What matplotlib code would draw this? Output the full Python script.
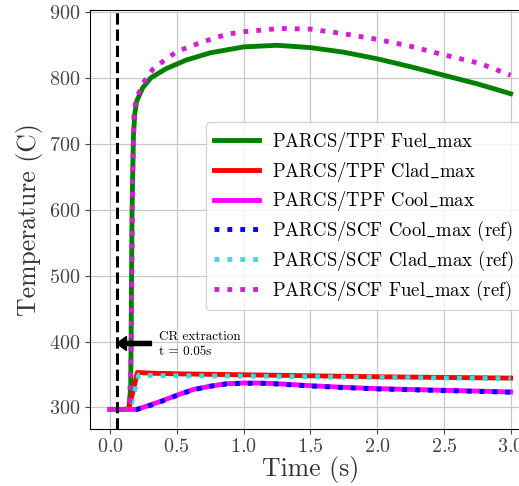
import matplotlib
matplotlib.use("Agg")
import matplotlib.pyplot as plt

plt.rcParams["font.family"] = ["cmr10", "DejaVu Serif"]
plt.rcParams["mathtext.fontset"] = "cm"
plt.rcParams["axes.formatter.use_mathtext"] = True

# PARCS/TPF results
t_fuel_tpf = [0.0, 0.14, 0.155, 0.165, 0.175, 0.185, 0.2, 0.245, 0.305, 0.42, 0.57,
              0.75, 1.0, 1.25, 1.5, 1.75, 2.0, 2.25, 2.5, 2.75, 3.0]
fuel_tpf = [297, 297, 330, 600, 710, 745, 765, 785, 800, 814, 827,
            838, 847, 849.5, 846, 839, 829, 817, 804, 791, 776]

t_clad_tpf = [0.0, 0.14, 0.205, 0.3, 0.5, 1.0, 1.5, 2.0, 2.5, 3.0]
clad_tpf = [297, 297, 353, 352, 351, 349.5, 348, 346.5, 345.5, 344.5]

t_cool = [0.0, 0.2, 0.245, 0.37, 0.5, 0.62, 0.745, 0.87, 1.0, 1.125, 1.25,
          1.5, 1.75, 2.0, 2.5, 3.0]
cool_tpf = [297, 297, 300, 308.5, 318.5, 327, 332, 336, 337, 337, 336,
            333, 330.5, 328.5, 326, 323.5]

# PARCS/SCF reference results
cool_scf = [297, 297, 299, 308, 318, 326.5, 332, 335.5, 336.5, 336.5, 335.5,
            332.5, 330, 328, 325.5, 323]

t_clad_scf = [0.0, 0.15, 0.215, 0.3, 0.5, 1.0, 1.5, 2.0, 2.5, 3.0]
clad_scf = [297, 297, 349, 348.5, 348, 347.5, 346.5, 345.5, 344.5, 343.5]

t_fuel_scf = [0.0, 0.145, 0.16, 0.17, 0.18, 0.2, 0.26, 0.32, 0.39, 0.5, 0.67,
              0.87, 1.0, 1.27, 1.5, 1.75, 2.0, 2.25, 2.5, 2.77, 3.0]
fuel_scf = [297, 297, 400, 650, 750, 770, 796, 813, 824, 840, 853,
            866, 870, 875, 874, 867, 858.5, 848, 835, 822, 804]

t_extract = 0.05

# cmr10 has no plain underscore glyph, so draw it through mathtext
labels = [
    r"PARCS/TPF Fuel$\_$max",
    r"PARCS/TPF Clad$\_$max",
    r"PARCS/TPF Cool$\_$max",
    r"PARCS/SCF Cool$\_$max (ref)",
    r"PARCS/SCF Clad$\_$max (ref)",
    r"PARCS/SCF Fuel$\_$max (ref)",
]

fig = plt.figure(figsize=(5.19, 4.86), dpi=100)
ax = fig.add_axes([0.1734, 0.1183, 0.849, 0.8611])

ax.plot(t_fuel_tpf, fuel_tpf, color="green", lw=3.5, label=labels[0])
ax.plot(t_clad_tpf, clad_tpf, color="red", lw=3.5, label=labels[1])
ax.plot(t_cool, cool_tpf, color="magenta", lw=3.5, label=labels[2])
ax.plot(t_cool, cool_scf, color="blue", lw=3.5, ls=":", label=labels[3])
ax.plot(t_clad_scf, clad_scf, color="#30e0e0", lw=3.5, ls=":", label=labels[4])
ax.plot(t_fuel_scf, fuel_scf, color="#d020d0", lw=3.5, ls=":", label=labels[5])

ax.axvline(t_extract, color="black", lw=2.2, ls="--")
ax.annotate("", xy=(t_extract, 397), xytext=(0.31, 397),
            arrowprops=dict(facecolor="black", edgecolor="black", width=3,
                            headwidth=10, headlength=7, shrink=0))
ax.text(0.37, 395, "CR extraction\nt = 0.05s", fontsize=9.5, ha="left", va="center",
        linespacing=1.3)

ax.set_xlim(-0.15, 3.15)
ax.set_ylim(268, 903)
ax.set_xticks([0.0, 0.5, 1.0, 1.5, 2.0, 2.5, 3.0])
ax.set_yticks([300, 400, 500, 600, 700, 800, 900])
ax.tick_params(labelsize=14.5, colors="#444444", labelcolor="#444444")
ax.set_xlabel("Time (s)", fontsize=18.5, color="#333333", labelpad=0)
ax.set_ylabel("Temperature (C)", fontsize=18.5, color="#333333")
ax.grid(True, color="#c8c8c8", lw=0.9)
ax.set_axisbelow(True)

ax.legend(loc="upper left", bbox_to_anchor=(0.397, 0.748),
          bbox_transform=fig.transFigure, fontsize=13.5, handlelength=2.4,
          handletextpad=0.7, labelspacing=0.3, borderaxespad=0)

fig.savefig("out.png", dpi=100)
